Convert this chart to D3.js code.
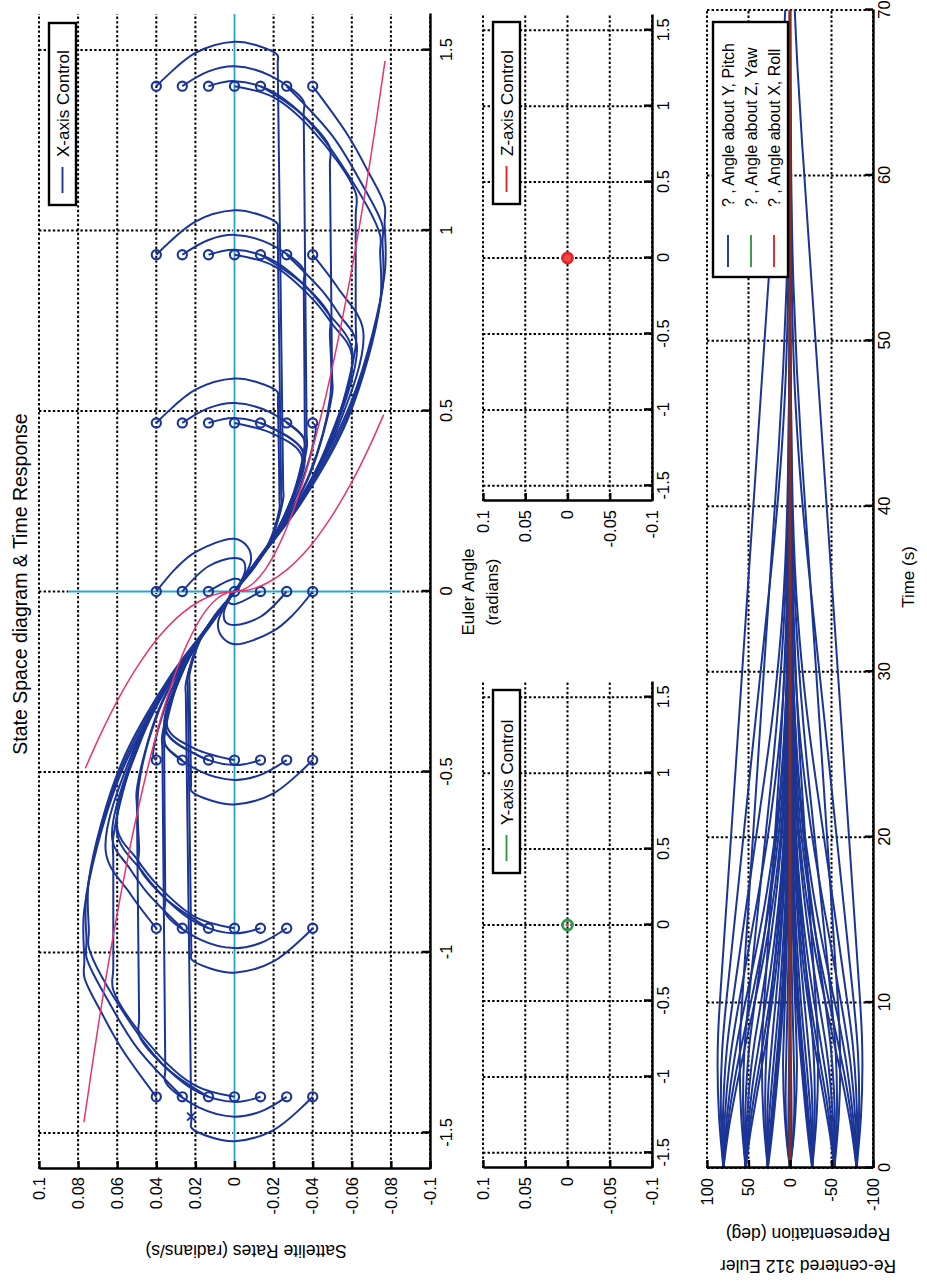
<!DOCTYPE html>
<html>
<head>
<meta charset="utf-8">
<script src="https://cdn.jsdelivr.net/npm/d3@7/dist/d3.min.js"></script>
<style>
  html, body { margin: 0; padding: 0; background: #fff; }
  svg { display: block; }
</style>
</head>
<body>
<svg id="fig" width="927" height="1284"></svg>
<script>
// ---------------------------------------------------------------
// Tick values
// ---------------------------------------------------------------
const angleTicks = [-1.5, -1, -0.5, 0, 0.5, 1, 1.5];
const rateTicks = [-0.1, -0.08, -0.06, -0.04, -0.02, 0, 0.02, 0.04, 0.06, 0.08, 0.1];
const smallRateTicks = [-0.1, -0.05, 0, 0.05, 0.1];
const timeTicks = [0, 10, 20, 30, 40, 50, 60, 70];
const degTicks = [-100, -50, 0, 50, 100];

// ---------------------------------------------------------------
// Simulated runs, one array per starting angle.
// Each run is a list of samples [time (s), angle (rad), rate (rad/s)].
// ---------------------------------------------------------------
const phaseP140 = [
  [[0,1.4,0.04],[3.1,1.492,0.02],[6.2,1.523,0],[8.0,1.512,-0.012],[9.5,1.486,-0.022],[10.5,1.464,-0.0221],[60.7,0.285,-0.0249],[61.7,0.26,-0.025],[66.6,0.156,-0.0195],[71.7,0.078,-0.0113],[78.7,0.026,-0.0038],[91.7,0,0]],
  [[0,1.4,0.0267],[2.1,1.441,0.0133],[4.1,1.455,0],[6.9,1.430,-0.018],[9.5,1.359,-0.0353],[10.5,1.324,-0.0354],[35.0,0.436,-0.0369],[36.0,0.40,-0.037],[40.9,0.24,-0.0289],[46.0,0.12,-0.0167],[53.0,0.04,-0.0056],[66.0,0,0]],
  [[0,1.4,0.0133],[2.0,1.414,0],[4.8,1.389,-0.018],[7.3,1.325,-0.034],[9.5,1.231,-0.0487],[10.5,1.182,-0.0488],[22.3,0.60,-0.0499],[23.3,0.55,-0.05],[28.2,0.33,-0.039],[33.3,0.165,-0.0225],[40.3,0.055,-0.0075],[53.3,0,0]],
  [[0,1.4,0],[3.1,1.369,-0.02],[6.2,1.277,-0.04],[9.5,1.104,-0.062],[10.5,1.042,-0.062],[15.3,0.742,-0.062],[16.3,0.68,-0.062],[21.2,0.408,-0.0484],[26.3,0.204,-0.0279],[33.3,0.068,-0.0093],[46.3,0,0]],
  [[0,1.4,-0.0133],[3.3,1.319,-0.035],[6.4,1.181,-0.055],[9.4,0.987,-0.0745],[10.0,0.942,-0.0745],[11.9,0.80,-0.0745],[16.8,0.48,-0.0581],[21.9,0.24,-0.0335],[28.9,0.08,-0.0112],[41.9,0,0]],
  [[0,1.4,-0.0267],[3.6,1.263,-0.05],[5.7,1.140,-0.064],[7.5,1.014,-0.0757],[8.1,0.969,-0.0757],[9.8,0.84,-0.0757],[14.7,0.504,-0.059],[19.8,0.252,-0.0341],[26.8,0.084,-0.0114],[39.8,0,0]],
  [[0,1.4,-0.04],[2.8,1.264,-0.058],[4.3,1.167,-0.068],[5.7,1.069,-0.0768],[6.3,1.023,-0.0768],[8.2,0.88,-0.0768],[13.1,0.528,-0.0599],[18.2,0.264,-0.0346],[25.2,0.088,-0.0115],[38.2,0,0]]
];

const phaseP093 = [
  [[0,0.933,0.04],[3.1,1.025,0.02],[6.2,1.056,0],[8.0,1.045,-0.012],[9.5,1.019,-0.022],[10.5,0.997,-0.0221],[42.4,0.263,-0.0239],[43.4,0.24,-0.024],[48.3,0.144,-0.0187],[53.4,0.072,-0.0108],[60.4,0.024,-0.0036],[73.4,0,0]],
  [[0,0.933,0.0267],[2.1,0.974,0.0133],[4.1,0.988,0],[6.9,0.963,-0.018],[9.5,0.892,-0.0353],[10.5,0.857,-0.0354],[22.8,0.416,-0.036],[23.8,0.38,-0.036],[28.7,0.228,-0.0281],[33.8,0.114,-0.0162],[40.8,0.038,-0.0054],[53.8,0,0]],
  [[0,0.933,0.0133],[2.0,0.947,0],[4.8,0.922,-0.018],[7.3,0.858,-0.034],[9.5,0.764,-0.0487],[10.5,0.715,-0.0488],[14.1,0.54,-0.049],[19.0,0.324,-0.0382],[24.1,0.162,-0.0221],[31.1,0.054,-0.0074],[44.1,0,0]],
  [[0,0.933,0],[3.1,0.902,-0.02],[6.2,0.810,-0.04],[7.7,0.741,-0.05],[9.2,0.656,-0.06],[14.1,0.394,-0.0468],[19.2,0.197,-0.027],[26.2,0.066,-0.009],[39.2,0,0]],
  [[0,0.933,-0.0133],[3.3,0.852,-0.035],[5.2,0.777,-0.047],[7.2,0.668,-0.0602],[12.1,0.401,-0.047],[17.2,0.2,-0.0271],[24.2,0.067,-0.009],[37.2,0,0]],
  [[0,0.933,-0.0267],[2.8,0.832,-0.045],[4.2,0.764,-0.054],[5.5,0.687,-0.0625],[10.4,0.412,-0.0488],[15.5,0.206,-0.0281],[22.5,0.069,-0.0094],[35.5,0,0]],
  [[0,0.933,-0.04],[2.0,0.840,-0.053],[4.0,0.723,-0.0658],[8.9,0.434,-0.0513],[14.0,0.217,-0.0296],[21.0,0.072,-0.0099],[34.0,0,0]]
];

const phaseP047 = [
  [[0,0.467,0.04],[3.1,0.559,0.02],[6.2,0.590,0],[8.0,0.579,-0.012],[9.5,0.553,-0.022],[10.5,0.531,-0.0222],[22.9,0.253,-0.023],[23.9,0.23,-0.023],[28.8,0.138,-0.0179],[33.9,0.069,-0.0104],[40.9,0.023,-0.0035],[53.9,0,0]],
  [[0,0.467,0.0267],[2.1,0.508,0.0133],[4.1,0.522,0],[6.9,0.497,-0.018],[9.5,0.426,-0.0353],[10.5,0.39,-0.0355],[15.4,0.234,-0.0277],[20.5,0.117,-0.016],[27.5,0.039,-0.0053],[40.5,0,0]],
  [[0,0.467,0.0133],[2.0,0.481,0],[4.8,0.456,-0.018],[7.4,0.386,-0.035],[12.3,0.232,-0.0273],[17.4,0.116,-0.0158],[24.4,0.039,-0.0053],[37.4,0,0]],
  [[0,0.467,0],[3.1,0.436,-0.02],[5.3,0.377,-0.0343],[10.2,0.226,-0.0268],[15.3,0.113,-0.0154],[22.3,0.038,-0.0051],[35.3,0,0]],
  [[0,0.467,-0.0133],[0.7,0.456,-0.018],[3.4,0.384,-0.0355],[8.3,0.23,-0.0277],[13.4,0.115,-0.016],[20.4,0.038,-0.0053],[33.4,0,0]],
  [[0,0.467,-0.0267],[1.4,0.426,-0.0353],[2.4,0.392,-0.036],[7.3,0.235,-0.028],[12.4,0.118,-0.0162],[19.4,0.039,-0.0054],[32.4,0,0]],
  [[0,0.467,-0.04],[0.2,0.457,-0.0415],[5.1,0.274,-0.0324],[10.2,0.137,-0.0187],[17.2,0.046,-0.0062],[30.2,0,0]]
];

const phase000 = [
  [[0,0,0.04],[1.5,0.064,0.03],[3.1,0.109,0.02],[6.2,0.146,0],[8.5,0.125,-0.0065],[11.5,0.09,-0.0085],[16,0.045,-0.0055],[22,0.012,-0.0015],[34,0,0]],
  [[0,0,0.0267],[2.1,0.07,0.0133],[4.1,0.093,0],[6,0.085,-0.0045],[9,0.06,-0.0055],[13,0.03,-0.0035],[19,0.008,-0.001],[30,0,0]],
  [[0,0,0.0133],[2,0.035,0],[4,0.03,-0.003],[8,0.012,-0.0025],[14,0.003,-0.0006],[24,0,0]],
  [[0,0,0],[70,0,0]],
  [[0,0,-0.0133],[2,-0.035,0],[4,-0.03,0.003],[8,-0.012,0.0025],[14,-0.003,0.0006],[24,0,0]],
  [[0,0,-0.0267],[2.1,-0.07,-0.0133],[4.1,-0.093,0],[6,-0.085,0.0045],[9,-0.06,0.0055],[13,-0.03,0.0035],[19,-0.008,0.001],[30,0,0]],
  [[0,0,-0.04],[1.5,-0.064,-0.03],[3.1,-0.109,-0.02],[6.2,-0.146,0],[8.5,-0.125,0.0065],[11.5,-0.09,0.0085],[16,-0.045,0.0055],[22,-0.012,0.0015],[34,0,0]]
];

const phaseM047 = [
  [[0,-0.467,-0.04],[3.1,-0.559,-0.02],[6.2,-0.590,0],[8.0,-0.579,0.012],[9.5,-0.553,0.022],[10.5,-0.531,0.0222],[22.9,-0.253,0.023],[23.9,-0.23,0.023],[28.8,-0.138,0.0179],[33.9,-0.069,0.0104],[40.9,-0.023,0.0035],[53.9,0,0]],
  [[0,-0.467,-0.0267],[2.1,-0.508,-0.0133],[4.1,-0.522,0],[6.9,-0.497,0.018],[9.5,-0.426,0.0353],[10.5,-0.39,0.0355],[15.4,-0.234,0.0277],[20.5,-0.117,0.016],[27.5,-0.039,0.0053],[40.5,0,0]],
  [[0,-0.467,-0.0133],[2.0,-0.481,0],[4.8,-0.456,0.018],[7.4,-0.386,0.035],[12.3,-0.232,0.0273],[17.4,-0.116,0.0158],[24.4,-0.039,0.0053],[37.4,0,0]],
  [[0,-0.467,0],[3.1,-0.436,0.02],[5.3,-0.377,0.0343],[10.2,-0.226,0.0268],[15.3,-0.113,0.0154],[22.3,-0.038,0.0051],[35.3,0,0]],
  [[0,-0.467,0.0133],[0.7,-0.456,0.018],[3.4,-0.384,0.0355],[8.3,-0.23,0.0277],[13.4,-0.115,0.016],[20.4,-0.038,0.0053],[33.4,0,0]],
  [[0,-0.467,0.0267],[1.4,-0.426,0.0353],[2.4,-0.392,0.036],[7.3,-0.235,0.028],[12.4,-0.118,0.0162],[19.4,-0.039,0.0054],[32.4,0,0]],
  [[0,-0.467,0.04],[0.2,-0.457,0.0415],[5.1,-0.274,0.0324],[10.2,-0.137,0.0187],[17.2,-0.046,0.0062],[30.2,0,0]]
];

const phaseM093 = [
  [[0,-0.933,-0.04],[3.1,-1.025,-0.02],[6.2,-1.056,0],[8.0,-1.045,0.012],[9.5,-1.019,0.022],[10.5,-0.997,0.0221],[42.4,-0.263,0.0239],[43.4,-0.24,0.024],[48.3,-0.144,0.0187],[53.4,-0.072,0.0108],[60.4,-0.024,0.0036],[73.4,0,0]],
  [[0,-0.933,-0.0267],[2.1,-0.974,-0.0133],[4.1,-0.988,0],[6.9,-0.963,0.018],[9.5,-0.892,0.0353],[10.5,-0.857,0.0354],[22.8,-0.416,0.036],[23.8,-0.38,0.036],[28.7,-0.228,0.0281],[33.8,-0.114,0.0162],[40.8,-0.038,0.0054],[53.8,0,0]],
  [[0,-0.933,-0.0133],[2.0,-0.947,0],[4.8,-0.922,0.018],[7.3,-0.858,0.034],[9.5,-0.764,0.0487],[10.5,-0.715,0.0488],[14.1,-0.54,0.049],[19.0,-0.324,0.0382],[24.1,-0.162,0.0221],[31.1,-0.054,0.0074],[44.1,0,0]],
  [[0,-0.933,0],[3.1,-0.902,0.02],[6.2,-0.810,0.04],[7.7,-0.741,0.05],[9.2,-0.656,0.06],[14.1,-0.394,0.0468],[19.2,-0.197,0.027],[26.2,-0.066,0.009],[39.2,0,0]],
  [[0,-0.933,0.0133],[3.3,-0.852,0.035],[5.2,-0.777,0.047],[7.2,-0.668,0.0602],[12.1,-0.401,0.047],[17.2,-0.2,0.0271],[24.2,-0.067,0.009],[37.2,0,0]],
  [[0,-0.933,0.0267],[2.8,-0.832,0.045],[4.2,-0.764,0.054],[5.5,-0.687,0.0625],[10.4,-0.412,0.0488],[15.5,-0.206,0.0281],[22.5,-0.069,0.0094],[35.5,0,0]],
  [[0,-0.933,0.04],[2.0,-0.840,0.053],[4.0,-0.723,0.0658],[8.9,-0.434,0.0513],[14.0,-0.217,0.0296],[21.0,-0.072,0.0099],[34.0,0,0]]
];

const phaseM140 = [
  [[0,-1.4,-0.04],[3.1,-1.492,-0.02],[6.2,-1.523,0],[8.0,-1.512,0.012],[9.5,-1.486,0.022],[10.5,-1.464,0.0221],[60.7,-0.285,0.0249],[61.7,-0.26,0.025],[66.6,-0.156,0.0195],[71.7,-0.078,0.0113],[78.7,-0.026,0.0038],[91.7,0,0]],
  [[0,-1.4,-0.0267],[2.1,-1.441,-0.0133],[4.1,-1.455,0],[6.9,-1.430,0.018],[9.5,-1.359,0.0353],[10.5,-1.324,0.0354],[35.0,-0.436,0.0369],[36.0,-0.40,0.037],[40.9,-0.24,0.0289],[46.0,-0.12,0.0167],[53.0,-0.04,0.0056],[66.0,0,0]],
  [[0,-1.4,-0.0133],[2.0,-1.414,0],[4.8,-1.389,0.018],[7.3,-1.325,0.034],[9.5,-1.231,0.0487],[10.5,-1.182,0.0488],[22.3,-0.60,0.0499],[23.3,-0.55,0.05],[28.2,-0.33,0.039],[33.3,-0.165,0.0225],[40.3,-0.055,0.0075],[53.3,0,0]],
  [[0,-1.4,0],[3.1,-1.369,0.02],[6.2,-1.277,0.04],[9.5,-1.104,0.062],[10.5,-1.042,0.062],[15.3,-0.742,0.062],[16.3,-0.68,0.062],[21.2,-0.408,0.0484],[26.3,-0.204,0.0279],[33.3,-0.068,0.0093],[46.3,0,0]],
  [[0,-1.4,0.0133],[3.3,-1.319,0.035],[6.4,-1.181,0.055],[9.4,-0.987,0.0745],[10.0,-0.942,0.0745],[11.9,-0.80,0.0745],[16.8,-0.48,0.0581],[21.9,-0.24,0.0335],[28.9,-0.08,0.0112],[41.9,0,0]],
  [[0,-1.4,0.0267],[3.6,-1.263,0.05],[5.7,-1.140,0.064],[7.5,-1.014,0.0757],[8.1,-0.969,0.0757],[9.8,-0.84,0.0757],[14.7,-0.504,0.059],[19.8,-0.252,0.0341],[26.8,-0.084,0.0114],[39.8,0,0]],
  [[0,-1.4,0.04],[2.8,-1.264,0.058],[4.3,-1.167,0.068],[5.7,-1.069,0.0768],[6.3,-1.023,0.0768],[8.2,-0.88,0.0768],[13.1,-0.528,0.0599],[18.2,-0.264,0.0346],[25.2,-0.088,0.0115],[38.2,0,0]]
];

// Switching curves [angle, rate]
const switchInner = [[-0.49,0.0763],[-0.4,0.0689],[-0.3,0.0597],[-0.2,0.0487],[-0.12,0.0378],[-0.06,0.0267],[-0.025,0.0172],[-0.008,0.0097],[-0.002,0.0049],[0,0],[0.002,-0.0049],[0.008,-0.0097],[0.025,-0.0172],[0.06,-0.0267],[0.12,-0.0378],[0.2,-0.0487],[0.3,-0.0597],[0.4,-0.0689],[0.49,-0.0763]];
const switchOuter = [[-1.47,0.077],[-1.2,0.0696],[-0.95,0.0619],[-0.7,0.0531],[-0.5,0.0449],[-0.3,0.0348],[-0.15,0.0246],[-0.06,0.0156],[-0.02,0.009],[-0.004,0.004],[0,0],[0.004,-0.004],[0.02,-0.009],[0.06,-0.0156],[0.15,-0.0246],[0.3,-0.0348],[0.5,-0.0449],[0.7,-0.0531],[0.95,-0.0619],[1.2,-0.0696],[1.47,-0.077]];

// Reference axes drawn in the phase plane
const zeroRateLine = [[-1.6,0],[1.6,0]];
const zeroAngleLine = [[0,-0.085],[0,0.085]];
const endMarker = [[-1.455,0.0222]];

// Y and Z channels stay at rest
const yawPhase = [[0,0]];
const rollPhase = [[0,0]];
const yawTime = [[0,0],[70,0]];
const rollTime = [[0,0],[70,0]];

// ---------------------------------------------------------------
// Figure setup: a landscape figure turned onto a portrait page
// ---------------------------------------------------------------
const FIG_W = 1284;
const FONT = '"Liberation Sans", Arial, Helvetica, sans-serif';
const BLUE = "#1b3596";
const GREEN = "#2f9a45";
const RED = "#e0262a";
const PINK = "#e8336e";
const CYAN = "#27a7cf";

const svg = d3.select("#fig");
svg.append("rect").attr("width", 927).attr("height", 1284).attr("fill", "#fff");
const fig = svg.append("g")
  .attr("transform", `translate(0,${FIG_W}) rotate(-90)`)
  .attr("font-family", FONT);

function panel(box, xDom, yDom, xTicks, yTicks) {
  const x = d3.scaleLinear().domain(xDom).range([box.left, box.right]);
  const y = d3.scaleLinear().domain(yDom).range([box.bottom, box.top]);
  const g = fig.append("g");
  const grid = g.append("g")
    .attr("stroke", "#000").attr("stroke-width", 2)
    .attr("stroke-dasharray", "2.4,2.2").attr("fill", "none");
  grid.selectAll("line.v").data(xTicks).join("line").attr("class", "v")
    .attr("x1", d => x(d)).attr("x2", d => x(d))
    .attr("y1", box.top).attr("y2", box.bottom);
  grid.selectAll("line.h").data(yTicks).join("line").attr("class", "h")
    .attr("x1", box.left).attr("x2", box.right)
    .attr("y1", d => y(d)).attr("y2", d => y(d));
  const data = g.append("g");
  return { x, y, g, data, box };
}

function axes(p, xTicks, yTicks, xPad, yPad) {
  const xa = p.g.append("g").attr("transform", `translate(0,${p.box.bottom})`)
    .call(d3.axisBottom(p.x).tickValues(xTicks).tickFormat(d => String(d))
      .tickSizeInner(-8).tickSizeOuter(0).tickPadding(xPad));
  const ya = p.g.append("g").attr("transform", `translate(${p.box.left},0)`)
    .call(d3.axisLeft(p.y).tickValues(yTicks).tickFormat(d => String(d))
      .tickSizeInner(-8).tickSizeOuter(0).tickPadding(yPad));
  [xa, ya].forEach(a => {
    a.attr("font-family", FONT).attr("font-size", 16.5);
    a.select(".domain").attr("stroke", "#000").attr("stroke-width", 2.4);
    a.selectAll(".tick line").attr("stroke", "#000").attr("stroke-width", 2.4);
    a.selectAll(".tick text").attr("fill", "#000");
  });
}

function legend(x0, y0, w, h, items, s0, s1, tx, fs) {
  const g = fig.append("g");
  g.append("rect").attr("x", x0).attr("y", y0).attr("width", w).attr("height", h)
    .attr("fill", "#fff").attr("stroke", "#000").attr("stroke-width", 2.4);
  items.forEach(it => {
    g.append("line").attr("x1", x0 + s0).attr("x2", x0 + s1)
      .attr("y1", it.y).attr("y2", it.y)
      .attr("stroke", it.color).attr("stroke-width", 1.9);
    g.append("text").attr("x", x0 + tx).attr("y", it.y).attr("dy", "0.36em")
      .attr("font-size", fs).attr("fill", "#000").text(it.label);
  });
}

const allRuns = [].concat(phaseP140, phaseP093, phaseP047, phase000, phaseM047, phaseM093, phaseM140);

// ---------------------------------------------------------------
// State space panel (X-axis control)
// ---------------------------------------------------------------
const mainBox = { left: 115, right: 1270, top: 39, bottom: 430 };
const P = panel(mainBox, [-1.6, 1.6], [-0.1, 0.1], angleTicks, rateTicks);

// zero-rate and zero-angle reference lines: a white bed hides the dotted grid beneath
const simple = d3.line().x(d => P.x(d[0])).y(d => P.y(d[1]));
[zeroRateLine, zeroAngleLine].forEach(l => {
  P.data.append("path").attr("d", simple(l)).attr("stroke", "#fff").attr("stroke-width", 3.2).attr("fill", "none");
  P.data.append("path").attr("d", simple(l)).attr("stroke", CYAN).attr("stroke-width", 1.8).attr("fill", "none");
});

const phaseLine = d3.line()
  .x(d => P.x(d[1])).y(d => P.y(d[2]))
  .curve(d3.curveCatmullRom.alpha(0.5));
P.data.selectAll("path.run").data(allRuns).join("path").attr("class", "run")
  .attr("d", phaseLine).attr("fill", "none")
  .attr("stroke", BLUE).attr("stroke-width", 2).attr("stroke-linejoin", "round");
P.data.selectAll("circle.start").data(allRuns).join("circle").attr("class", "start")
  .attr("cx", d => P.x(d[0][1])).attr("cy", d => P.y(d[0][2])).attr("r", 4.6)
  .attr("fill", "none").attr("stroke", BLUE).attr("stroke-width", 2.1);

const pinkLine = d3.line().x(d => P.x(d[0])).y(d => P.y(d[1])).curve(d3.curveCatmullRom.alpha(0.5));
[switchInner, switchOuter].forEach(c => {
  P.data.append("path").attr("d", pinkLine(c)).attr("fill", "none")
    .attr("stroke", PINK).attr("stroke-width", 1.5);
});

endMarker.forEach(m => {
  const cx = P.x(m[0]), cy = P.y(m[1]), s = 4;
  P.data.append("path").attr("d", `M${cx - s},${cy - s}L${cx + s},${cy + s}M${cx - s},${cy + s}L${cx + s},${cy - s}`)
    .attr("stroke", BLUE).attr("stroke-width", 1.9);
});

axes(P, angleTicks, rateTicks, 10, 8);

fig.append("text").attr("x", 700).attr("y", 20).attr("dy", "0.36em")
  .attr("text-anchor", "middle").attr("font-size", 19.5)
  .text("State Space diagram & Time Response");
fig.append("text").attr("transform", "translate(33,246) rotate(-90)")
  .attr("dy", "0.36em").attr("text-anchor", "middle").attr("font-size", 17.5)
  .text("Sattelite Rates (radians/s)");
fig.append("text").attr("x", 692).attr("y", 468).attr("dy", "0.36em")
  .attr("text-anchor", "middle").attr("font-size", 17).text("Euler Angle");
fig.append("text").attr("x", 692).attr("y", 492).attr("dy", "0.36em")
  .attr("text-anchor", "middle").attr("font-size", 17).text("(radians)");

legend(1079, 49, 182, 27, [{ label: "X-axis Control", color: BLUE, y: 62.5 }], 12, 38, 48, 17);

// ---------------------------------------------------------------
// Y-axis control panel
// ---------------------------------------------------------------
const yBox = { left: 116, right: 602, top: 483, bottom: 652 };
const PY = panel(yBox, [-1.6, 1.6], [-0.1, 0.1], angleTicks, smallRateTicks);
PY.data.selectAll("circle").data(yawPhase).join("circle")
  .attr("cx", d => PY.x(d[0])).attr("cy", d => PY.y(d[1])).attr("r", 5)
  .attr("fill", "none").attr("stroke", GREEN).attr("stroke-width", 2.8);
PY.data.append("circle").datum(yawPhase[0])
  .attr("cx", d => PY.x(d[0])).attr("cy", d => PY.y(d[1])).attr("r", 1.4)
  .attr("fill", "#d0506a");
axes(PY, angleTicks, smallRateTicks, 5, 9);
legend(411, 493, 183, 27, [{ label: "Y-axis Control", color: GREEN, y: 506.5 }], 12, 38, 48, 17);

// ---------------------------------------------------------------
// Z-axis control panel
// ---------------------------------------------------------------
const zBox = { left: 783, right: 1269, top: 483, bottom: 652 };
const PZ = panel(zBox, [-1.6, 1.6], [-0.1, 0.1], angleTicks, smallRateTicks);
PZ.data.selectAll("circle").data(rollPhase).join("circle")
  .attr("cx", d => PZ.x(d[0])).attr("cy", d => PZ.y(d[1])).attr("r", 5)
  .attr("fill", "#ee4a4a").attr("stroke", RED).attr("stroke-width", 2.8);
axes(PZ, angleTicks, smallRateTicks, 5, 9);
legend(1080, 493, 182, 27, [{ label: "Z-axis Control", color: RED, y: 506.5 }], 12, 38, 48, 17);

// ---------------------------------------------------------------
// Time response panel
// ---------------------------------------------------------------
const tBox = { left: 116, right: 1274, top: 707, bottom: 873 };
const PT = panel(tBox, [0, 70], [-100, 100], timeTicks, degTicks);
fig.append("clipPath").attr("id", "tclip").append("rect")
  .attr("x", tBox.left).attr("y", tBox.top)
  .attr("width", tBox.right - tBox.left).attr("height", tBox.bottom - tBox.top);
PT.data.attr("clip-path", "url(#tclip)");

const toDeg = 180 / Math.PI;
const timeLine = d3.line()
  .x(d => PT.x(d[0])).y(d => PT.y(d[1] * toDeg))
  .curve(d3.curveMonotoneX);
PT.data.selectAll("path.run").data(allRuns).join("path").attr("class", "run")
  .attr("d", timeLine).attr("fill", "none")
  .attr("stroke", BLUE).attr("stroke-width", 2);

const flatLine = d3.line().x(d => PT.x(d[0])).y(d => PT.y(d[1]));
PT.data.append("path").attr("d", flatLine(yawTime)).attr("stroke", GREEN).attr("stroke-width", 2.2).attr("fill", "none");
PT.data.append("path").attr("d", flatLine(rollTime)).attr("stroke", "#8e2a1c").attr("stroke-width", 2.8).attr("fill", "none");

axes(PT, timeTicks, degTicks, 5, 10);

fig.append("text").attr("x", 707).attr("y", 908).attr("dy", "0.36em")
  .attr("text-anchor", "middle").attr("font-size", 17).text("Time (s)");
fig.append("text").attr("transform", "translate(18,808) rotate(-90)")
  .attr("dy", "0.36em").attr("text-anchor", "middle").attr("font-size", 17.5)
  .text("Re-centered 312 Euler");
fig.append("text").attr("transform", "translate(50,808) rotate(-90)")
  .attr("dy", "0.36em").attr("text-anchor", "middle").attr("font-size", 17.5)
  .text("Representation (deg)");

legend(1007, 713, 255, 75, [
  { label: "? , Angle about Y, Pitch", color: BLUE, y: 728 },
  { label: "? , Angle about Z, Yaw", color: GREEN, y: 751 },
  { label: "? , Angle about X, Roll", color: RED, y: 774 }
], 10, 42, 70, 16);
</script>
</body>
</html>
